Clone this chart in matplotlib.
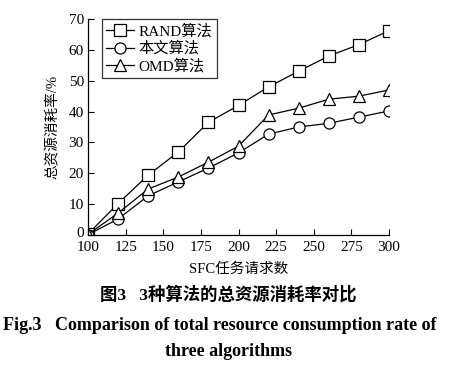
import matplotlib
matplotlib.use('Agg')
import matplotlib.pyplot as plt
from matplotlib.transforms import ScaledTranslation

# SFC request counts and total resource consumption rate (%)
requests = [100, 120, 140, 160, 180, 200, 220, 240, 260, 280, 300]
rand_alg = [0.3, 10.2, 19.4, 26.9, 36.5, 42.0, 48.0, 53.1, 58.0, 61.7, 66.2]
our_alg = [0.1, 5.2, 12.7, 17.2, 21.7, 26.6, 32.7, 35.0, 36.2, 38.2, 40.2]
omd_alg = [0.2, 7.1, 14.9, 18.8, 23.6, 28.8, 38.9, 41.1, 44.0, 45.0, 47.0]
labels = ['RAND算法', '本文算法', 'OMD算法']
xticks = [100, 125, 150, 175, 200, 225, 250, 275, 300]
yticks = [0, 10, 20, 30, 40, 50, 60, 70]

fam = ['Liberation Serif', 'Noto Sans CJK SC']
plt.rcParams['font.family'] = fam
plt.rcParams['font.size'] = 10

fig = plt.figure(figsize=(4.57, 3.77), dpi=100)
ax = fig.add_axes([88/457, 1 - 235/377, (389 - 88)/457, (235 - 19)/377])

style = dict(color='black', lw=0.9, mfc='white', mec='black', mew=0.9)
ax.plot(requests, rand_alg, marker='s', ms=8, label=labels[0], **style)
ax.plot(requests, our_alg, marker='o', ms=8, label=labels[1], **style)
ax.plot(requests, omd_alg, marker='^', ms=8.5, label=labels[2], **style)

ax.set_xlim(100, 300)
ax.set_ylim(0, 70)
ax.set_xticks(xticks)
ax.set_yticks(yticks)
ax.tick_params(direction='in', length=4, width=0.8, labelsize=11)
ax.tick_params(axis='x', pad=4)
ax.tick_params(axis='y', pad=3)
for s in ['top', 'right']:
    ax.spines[s].set_visible(False)
for s in ['left', 'bottom']:
    ax.spines[s].set_linewidth(0.9)

# nudge the "0" label up a little so it clears "100"
fig.canvas.draw()
lab0 = ax.get_yticklabels()[0]
lab0.set_transform(lab0.get_transform() + ScaledTranslation(0, 3/100, fig.dpi_scale_trans))

ax.set_xlabel('SFC任务请求数', fontsize=10.5, labelpad=6)
ax.set_ylabel('总资源消耗率/%', fontsize=10.5, labelpad=6)

leg = ax.legend(loc='upper left', bbox_to_anchor=(0.045, 1.0), frameon=True,
                fancybox=False, edgecolor='black', fontsize=11,
                handlelength=1.8, handletextpad=0.3, borderpad=0.3,
                labelspacing=0.2, borderaxespad=0.0)
leg.get_frame().set_linewidth(0.9)

fig.text(0.5, 1 - 295/377, '图3   3种算法的总资源消耗率对比', ha='center', va='center',
         fontsize=12.5, fontweight='bold')
fig.text(0.48, 1 - 325/377, 'Fig.3   Comparison of total resource consumption rate of',
         ha='center', va='center', fontsize=13, fontweight='bold')
fig.text(0.5, 1 - 352/377, 'three algorithms', ha='center', va='center',
         fontsize=13, fontweight='bold')

fig.savefig('out.png', dpi=100)
